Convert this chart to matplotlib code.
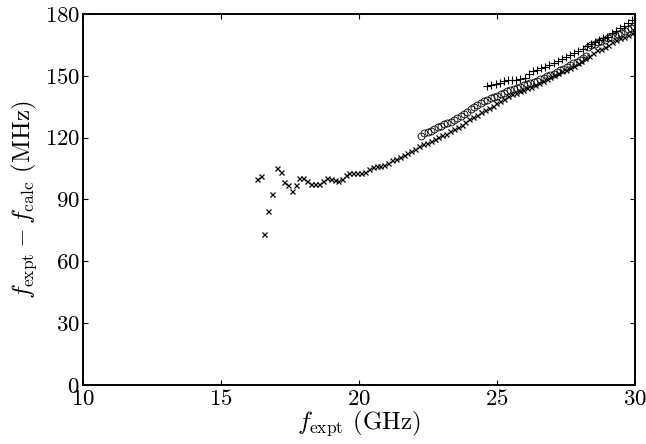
import matplotlib
matplotlib.use("Agg")
import matplotlib.pyplot as plt

plt.rcParams['font.family'] = ['cmr10', 'DejaVu Serif']
plt.rcParams['mathtext.fontset'] = 'cm'
plt.rcParams['axes.unicode_minus'] = False
plt.rcParams['axes.formatter.use_mathtext'] = True

cross_x = [16.30, 16.46, 16.57, 16.72, 16.87, 17.03, 17.17, 17.30, 17.44, 17.58,
           17.72, 17.85, 17.99, 18.14, 18.28, 18.43, 18.56, 18.70, 18.84, 18.99,
           19.13, 19.26, 19.39, 19.54, 19.66, 19.80, 19.94, 20.08, 20.22, 20.36,
           20.50, 20.64, 20.78, 20.92, 21.06, 21.20, 21.34, 21.48, 21.62, 21.76,
           21.90, 22.04, 22.18, 22.32, 22.46, 22.60, 22.74, 22.88, 23.02, 23.16,
           23.30, 23.44, 23.58, 23.72, 23.86, 24.00, 24.14, 24.28, 24.42, 24.56,
           24.70, 24.84, 24.98, 25.12, 25.26, 25.40, 25.54, 25.68, 25.82, 25.96,
           26.10, 26.24, 26.38, 26.52, 26.66, 26.80, 26.94, 27.08, 27.22, 27.36,
           27.50, 27.64, 27.78, 27.92, 28.06, 28.20, 28.34, 28.48, 28.62, 28.76,
           28.90, 29.04, 29.18, 29.32, 29.46, 29.60, 29.74, 29.88, 29.98]
cross_y = [99.9, 101.4, 73.1, 84.6, 92.8, 105.1, 103.3, 98.3, 97.2, 94.1,
           96.9, 100.6, 100.3, 99.0, 97.4, 97.4, 97.4, 99.1, 100.4, 99.8,
           99.5, 99.1, 100.1, 101.7, 102.7, 102.7, 102.7, 102.7, 103.3, 104.8,
           106.0, 106.3, 106.3, 106.6, 107.9, 109.0, 109.6, 110.6, 111.6, 112.5,
           113.4, 114.6, 116.0, 117.0, 117.6, 118.4, 119.4, 120.4, 121.3, 122.0,
           123.0, 124.0, 125.0, 126.3, 127.6, 128.9, 130.2, 131.2, 132.4, 133.4,
           134.5, 135.6, 136.7, 137.8, 139.0, 140.0, 141.0, 141.6, 142.4, 143.2,
           144.0, 144.8, 145.6, 146.6, 147.6, 148.6, 149.6, 150.6, 151.4, 152.2,
           153.0, 153.8, 155.0, 156.2, 157.4, 158.5, 159.6, 161.0, 162.3, 163.0,
           164.0, 165.0, 166.2, 167.2, 168.2, 169.0, 170.0, 171.0, 171.8]

plus_x = [24.65, 24.80, 24.95, 25.10, 25.25, 25.40, 25.55, 25.70, 25.85, 26.00,
          26.15, 26.30, 26.45, 26.60, 26.75, 26.90, 27.05, 27.20, 27.35, 27.50,
          27.65, 27.80, 27.95, 28.10, 28.25, 28.40, 28.55, 28.70, 28.85, 29.00,
          29.15, 29.30, 29.45, 29.60, 29.75, 29.90]
plus_y = [145.0, 145.4, 145.8, 146.3, 147.4, 148.0, 148.2, 148.2, 148.3, 149.0,
          151.0, 152.2, 152.8, 153.6, 154.4, 155.2, 156.2, 157.0, 158.0, 159.0,
          160.0, 161.0, 162.0, 163.2, 164.6, 165.5, 166.2, 167.2, 168.2, 169.0,
          170.6, 171.8, 173.0, 174.0, 175.5, 177.0]

circ_x = [22.25, 22.37, 22.49, 22.61, 22.73, 22.85, 22.97, 23.09, 23.21, 23.33,
          23.45, 23.57, 23.69, 23.81, 23.93, 24.05, 24.17, 24.29, 24.41, 24.53,
          24.65, 24.77, 24.89, 25.01, 25.13, 25.25, 25.37, 25.49, 25.61, 25.73,
          25.85, 25.97, 26.09, 26.21, 26.33, 26.45, 26.57, 26.69, 26.81, 26.93,
          27.05, 27.17, 27.29, 27.41, 27.53, 27.65, 27.77, 27.89, 28.01, 28.13,
          28.22,
          28.30, 28.42, 28.54, 28.66, 28.78, 28.90, 29.02, 29.14, 29.26, 29.38,
          29.50, 29.62, 29.74, 29.86, 29.97]
circ_y = [121.0, 122.2, 122.8, 123.4, 124.2, 125.0, 125.8, 126.4, 127.1, 127.8,
          128.6, 129.4, 130.4, 131.4, 132.6, 133.8, 135.0, 135.8, 136.6, 137.6,
          138.4, 139.1, 139.8, 140.4, 141.0, 141.8, 142.4, 143.1, 143.6, 144.2,
          144.8, 145.4, 145.9, 146.4, 147.0, 147.6, 148.3, 149.0, 149.7, 150.4,
          151.0, 151.8, 152.6, 153.4, 154.3, 155.1, 156.0, 156.8, 157.7, 158.6,
          159.4,
          164.0, 164.8, 165.5, 166.2, 166.8, 167.5, 168.2, 168.8, 169.6, 170.4,
          171.0, 171.8, 172.6, 173.3, 174.0]

x_ticks = [10, 15, 20, 25, 30]
y_ticks = [0, 30, 60, 90, 120, 150, 180]

fig = plt.figure(figsize=(6.46, 4.44), dpi=100)
ax = fig.add_axes([82.7 / 646, (444 - 385) / 444, (635 - 82.7) / 646, (385 - 14) / 444])

ax.plot(circ_x, circ_y, linestyle='none', marker='o', markersize=5.0,
        markerfacecolor='none', markeredgecolor='black', markeredgewidth=0.6)
ax.plot(plus_x, plus_y, linestyle='none', marker='+', markersize=5.5,
        color='black', markeredgewidth=0.8)
ax.plot(cross_x, cross_y, linestyle='none', marker='x', markersize=3.6,
        color='black', markeredgewidth=0.9)

ax.set_xlim(10, 30)
ax.set_ylim(0, 180)
ax.set_xticks(x_ticks)
ax.set_yticks(y_ticks)
ax.tick_params(direction='in', length=3.5, width=0.8, top=True, right=True,
               labelsize=16.5)
ax.tick_params(axis='x', pad=3)
ax.tick_params(axis='y', pad=2)
for s in ax.spines.values():
    s.set_linewidth(1.4)

ax.set_xlabel(r'$f_{\rm expt}$ (GHz)', fontsize=18, labelpad=-1)
ax.set_ylabel(r'$f_{\rm expt}-f_{\rm calc}$ (MHz)', fontsize=18, labelpad=4)

fig.savefig('out.png', dpi=100)
